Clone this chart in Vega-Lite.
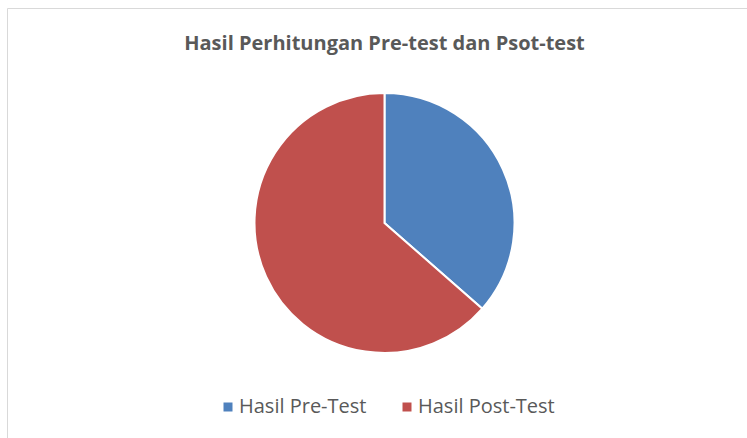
{
  "$schema": "https://vega.github.io/schema/vega-lite/v6.json",
  "width": 755,
  "height": 430,
  "padding": {"left": 7, "top": 8, "right": 0, "bottom": 0},
  "autosize": {"type": "none"},
  "background": "white",
  "view": {"stroke": "#d9d9d9", "strokeWidth": 1},
  "title": {
    "text": "Hasil Perhitungan Pre-test dan Psot-test",
    "font": "Open Sans",
    "fontSize": 20,
    "fontWeight": "bold",
    "color": "#595959",
    "anchor": "middle",
    "baseline": "alphabetic",
    "offset": -62
  },
  "data": {
    "values": [
      {"kategori": "Hasil Pre-Test", "nilai": 36.45, "urutan": 1},
      {"kategori": "Hasil Post-Test", "nilai": 63.55, "urutan": 2}
    ]
  },
  "mark": {"type": "arc", "outerRadius": 130, "stroke": "white", "strokeWidth": 2},
  "encoding": {
    "theta": {"field": "nilai", "type": "quantitative", "stack": true},
    "order": {"field": "urutan", "type": "quantitative"},
    "color": {
      "field": "kategori",
      "type": "nominal",
      "sort": ["Hasil Pre-Test", "Hasil Post-Test"],
      "scale": {"domain": ["Hasil Pre-Test", "Hasil Post-Test"], "range": ["#4F81BD", "#C0504D"]},
      "legend": {
        "title": null,
        "orient": "none",
        "direction": "horizontal",
        "legendX": 211,
        "legendY": 389,
        "symbolType": "square",
        "symbolSize": 81,
        "symbolStrokeWidth": 0,
        "symbolOffset": 0,
        "labelFont": "Open Sans",
        "labelFontSize": 20,
        "labelColor": "#595959",
        "labelOffset": 1,
        "columnPadding": 30,
        "labelLimit": 300
      }
    }
  }
}
